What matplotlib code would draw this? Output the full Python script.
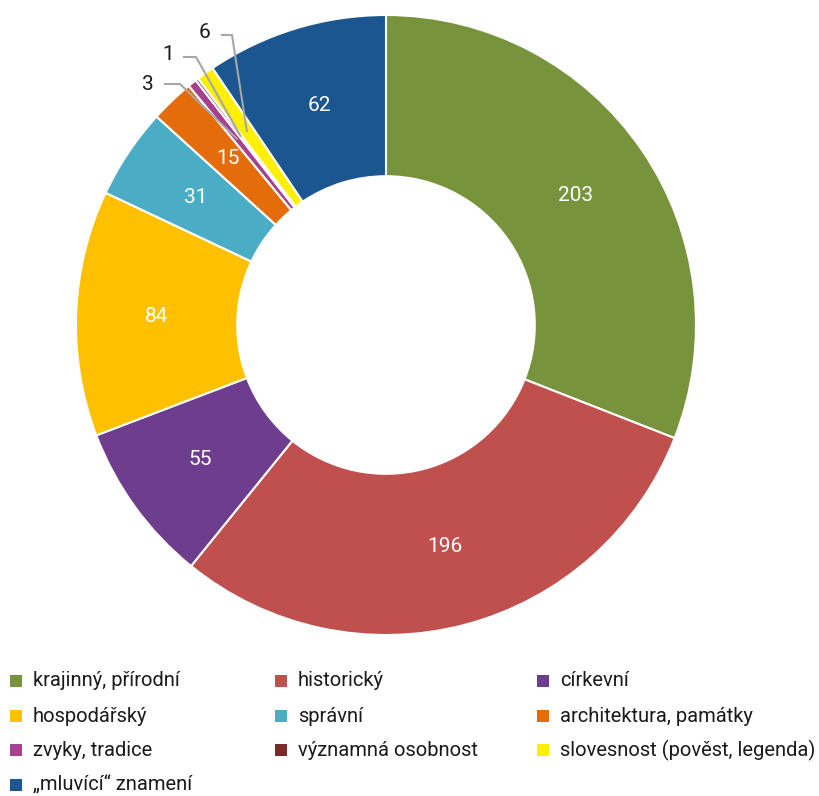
#! /usr/bin/env python3

import numpy as np
import matplotlib
matplotlib.use('Agg')
import matplotlib.pyplot as plt
from matplotlib.patches import Rectangle

plt.rcParams['font.family'] = ['Roboto', 'DejaVu Sans']

categories = ['krajinný, přírodní', 'historický', 'církevní',
              'hospodářský', 'správní', 'architektura, památky',
              'zvyky, tradice', 'významná osobnost', 'slovesnost (pověst, legenda)',
              '„mluvící“ znamení']
counts = [203, 196, 55, 84, 31, 15, 3, 1, 6, 62]
colors = ['#77933C', '#C0504D', '#6F3D8E', '#FFC000', '#4BACC6',
          '#E46C0A', '#A5418F', '#772C2A', '#FFF000', '#1B5690']

W, H = 820, 796
fig = plt.figure(figsize=(W/100, H/100), dpi=100)

# pie centre (386, 325) px, outer radius 310 px
cx, cy, R = 386, 325, 310
ax = fig.add_axes([(cx-R)/W, (H-cy-R)/H, 2*R/W, 2*R/H])

wedges, _ = ax.pie(counts, colors=colors, startangle=90, counterclock=False,
                   radius=1.0, wedgeprops=dict(width=0.52, edgecolor='white', linewidth=1.5))
ax.set_xlim(-1, 1)
ax.set_ylim(-1, 1)
ax.set_aspect('equal')
ax.axis('off')

total = float(sum(counts))
label_r = 0.74
cum = 0
mids = []
for v in counts:
    mid = 90 - (cum + v/2) / total * 360
    mids.append(np.deg2rad(mid))
    cum += v

# inside labels for big slices
for v, a in zip(counts, mids):
    if v >= 10:
        ax.text(label_r*np.cos(a), label_r*np.sin(a), str(v), color='white',
                ha='center', va='center', fontsize=15)

# outside labels with leader lines for the tiny ones
# (text pos, elbow start, elbow end) in px
outside = {6: ((148, 84), (165, 84), (180, 84)),
           7: ((168, 55), (184, 57), (196, 57)),
           8: ((205, 33), (222, 35), (232, 35))}

def px(p):
    return ((p[0]-cx)/R, (cy-p[1])/R)

for idx, (tpos, e0, e1) in outside.items():
    a = mids[idx]
    end = (0.77*np.cos(a), 0.77*np.sin(a))
    p0, p1 = px(e0), px(e1)
    ax.plot([p0[0], p1[0], end[0]], [p0[1], p1[1], end[1]], color='#A6A6A6',
            lw=1.5, clip_on=False)
    t = px(tpos)
    ax.text(t[0], t[1], str(counts[idx]), ha='center', va='center',
            fontsize=15, color='#1a1a1a')

# legend, 3 columns
col_x = [10, 275, 537]
row_y = [681, 716, 750, 785]
for i, name in enumerate(categories):
    x = col_x[i % 3]
    y = row_y[i // 3]
    fig.add_artist(Rectangle((x/W, (H-y-6)/H), 12/W, 12/H, transform=fig.transFigure,
                             facecolor=colors[i], edgecolor='none'))
    fig.text((x+23)/W, (H-y)/H, name, ha='left', va='center', fontsize=14.5,
             color='#1a1a1a')

fig.savefig('out.png', dpi=100)
